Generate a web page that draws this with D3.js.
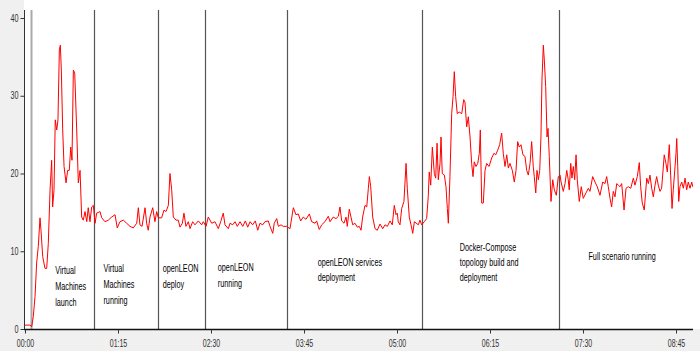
<!DOCTYPE html>
<html>
<head>
<meta charset="utf-8">
<script src="https://cdn.jsdelivr.net/npm/d3@7"></script>
<style>
  html, body { margin: 0; padding: 0; background: #f0f0f0; }
  svg { display: block; }
</style>
</head>
<body>
<svg id="chart" width="700" height="351"></svg>
<script>
// ---- data (minutes since start, CPU %) ----
const phaseLaunch = [[0,0.5],[4.0,0.5],[5.4,0.3],[6.7,1.6],[8.1,4.2],[9.4,8.5],[10.7,10.6],[12.1,14.3],[12.9,12.7],[14.3,9.3],[16.1,7.8],[17.5,7.8],[18.8,11],[20.2,17.9],[21.5,21.7],[22.3,15.7],[23.4,17.9],[24.4,26.9],[25.6,25.6],[26.6,26.9],[27.7,35.9],[28.5,36.5],[29.3,33.3],[30.4,25.6],[31.5,20.9],[33.1,18.8],[34.4,20.4],[35.7,20.4],[36.9,23.4],[37.9,21.7],[39.0,33.3],[40.1,32.9],[41.7,25.6],[43.0,18.8],[44.4,20.4],[45.7,14.4],[47.0,14.0],[48.4,15.1],[49.8,13.8],[51.0,15.6],[52.4,13.8],[53.8,15.7],[55.1,15.9]];
const phaseVmRunning = [[56.5,13.6],[57.8,14.9],[60.5,15.1],[61.9,14.3],[64.5,13.8],[67.2,14.0],[69.9,14.4],[72.6,14.7],[74.4,13.0],[76.6,13.8],[79.3,14.0],[82.0,13.6],[84.7,13.2],[87.3,13.0],[90.1,13.6],[91.4,15.6],[92.7,13.4],[94.4,13.2],[96.8,15.6],[98.1,13.6],[99.4,12.7],[100.8,14.4],[103.0,15.6],[104.8,13.8],[106.2,15.1],[107.5,14.3]];
const phaseDeploy = [[110.2,14.3],[112.1,15.3],[113.7,15.1],[115.6,15.9],[116.9,20.0],[118.3,17.9],[119.6,14.4],[121.8,14.0],[123.6,14.0],[125.0,13.1],[126.9,13.6],[128.2,14.9],[129.8,13.2],[131.7,13.8],[133.1,12.9],[135.2,13.8],[137.1,13.4],[139.8,13.9],[142.5,13.4],[143.8,13.8]];
const phaseLeonRunning = [[146.0,13.2],[147.8,14.4],[150.6,13.6],[153.2,13.8],[155.9,12.9],[157.8,13.8],[159.9,14.9],[161.3,13.4],[164.0,12.9],[165.3,13.6],[167.5,13.4],[169.4,13.8],[171.2,13.2],[173.4,13.8],[175.6,13.2],[177.7,13.9],[179.6,13.1],[181.5,13.8],[183.6,13.4],[185.7,13.9],[187.7,12.7],[189.5,13.6],[191.7,13.4],[193.5,13.8],[196.2,13.9],[197.6,13.2],[199.8,12.3],[201.0,13.6],[203.0,14.2],[204.3,13.2],[206.5,13.4],[208.3,13.2],[211.0,13.2]];
const phaseServices = [[213.7,12.9],[216.4,15.6],[218.5,14.7],[220.4,14.8],[222.3,13.9],[224.4,14.4],[226.6,14.1],[229.3,14.8],[231.2,13.8],[233.9,13.6],[235.2,13.9],[237.3,12.8],[239.3,13.4],[241.9,13.8],[244.6,14.5],[246.0,13.8],[248.6,14.4],[250.8,14.2],[252.7,14.5],[254.0,15.7],[255.4,13.9],[257.3,13.6],[258.9,14.4],[259.9,13.2],[261.5,15.4],[262.9,14.4],[264.3,13.4],[266.1,13.6],[268.0,13.1],[269.6,13.2],[271.0,12.7],[272.3,14.4],[274.2,15.9],[275.6,15.7],[276.9,18.1],[277.7,19.6],[278.8,18.3],[280.4,14.4],[282.3,12.9],[284.1,12.7],[286.3,13.5],[288.5,12.9],[290.3,13.4],[292.2,13.2],[294.4,13.9],[296.2,13.4],[297.8,15.9],[299.2,14.7],[300.2,14.9],[301.0,13.8],[302.4,13.4],[303.8,15.5],[305.6,16.4],[307.3,21.3],[308.3,18.1],[309.9,14.4],[311.3,13.4],[312.7,12.3],[314.0,13.8],[317.2,13.4],[318.5,14.0]];
const phaseDocker = [[319.9,13.4],[322.0,13.8],[323.9,14.2],[325.2,17.0],[326.0,20.2],[327.2,18.5],[328.5,23.4],[330.1,20.0],[331.2,19.4],[332.3,23.9],[333.3,19.2],[334.7,21.3],[335.5,24.7],[336.5,20.0],[338.2,19.8],[339.5,18.3],[340.6,15.5],[341.4,13.6],[342.7,19.6],[344.1,27.7],[345.2,29.9],[346.2,33.1],[347.3,29.9],[348.6,27.7],[350.2,27.9],[352.2,27.7],[353.8,29.5],[354.8,29.2],[356.2,26.0],[357.5,27.3],[358.9,24.7],[360.2,21.3],[361.3,19.6],[362.3,21.5],[363.7,20.9],[365.1,21.3],[366.4,22.6],[367.2,25.6],[368.3,16.2],[369.6,16.2],[371.0,20.4],[372.3,21.3],[374.2,20.9],[376.4,22.0],[378.2,22.6],[379.6,22.4],[381.2,23.0],[382.8,23.7],[384.4,25.2],[385.7,22.6],[387.1,20.9],[388.5,22.4],[389.8,20.7],[391.1,21.3],[393.0,20.4],[394.6,18.9],[396.0,20.4],[397.3,24.1],[398.6,23.4],[400.0,23.7],[401.6,22.4],[403.2,22.2],[404.6,20.4],[405.9,19.8],[407.3,21.3],[408.6,24.1],[409.9,20.9],[410.7,19.6],[411.9,17.5],[412.9,20.4],[414.0,19.2],[415.1,20.4],[416.1,24.7],[416.9,32.0],[418.0,36.5],[418.8,34.6],[419.9,31.2],[421.0,24.7],[421.8,25.8],[422.8,22.2],[424.2,16.4],[425.6,19.2],[426.9,17.9],[428.5,17.2],[430.1,19.6],[431.5,19.8]];
const phaseFull = [[432.3,18.9],[434.1,17.7],[435.5,18.7],[436.9,20.4],[438.1,19.2],[438.9,17.9],[440.1,21.3],[441.1,19.4],[442.2,20.9],[443.3,19.2],[444.4,22.4],[445.4,19.2],[447.0,16.4],[448.6,18.3],[450.2,16.8],[452.4,17.5],[454.3,18.1],[455.6,17.7],[457.8,19.6],[459.7,18.9],[461.5,18.3],[463.7,17.2],[465.9,18.9],[467.7,18.7],[469.1,19.6],[470.4,18.3],[471.8,16.8],[473.1,15.7],[474.4,17.7],[475.8,17.0],[477.2,18.7],[478.5,18.5],[479.8,18.3],[481.2,18.7],[483.1,15.3],[484.7,18.1],[486.5,18.3],[488.5,18.1],[490.6,19.4],[491.9,18.5],[493.8,19.6],[495.4,21.4],[496.5,18.3],[497.8,16.2],[499.4,15.3],[501.4,19.4],[502.7,18.7],[504.0,19.8],[505.4,18.1],[506.7,17.0],[508.1,18.5],[509.4,19.6],[510.7,18.5],[512.1,17.7],[513.4,18.1],[514.7,20.7],[515.5,22.4],[516.9,21.3],[518.0,20.2],[519.6,23.7],[520.7,19.8],[521.8,15.5],[522.8,17.9],[523.9,20.2],[525.0,22.6],[525.6,24.5],[526.4,20.9],[527.2,16.4],[528.2,18.3],[529.6,18.9],[530.9,18.1],[532.3,19.4],[533.6,17.9],[534.9,18.9],[536.3,18.1],[537.7,18.9],[538.5,18.3]];

const phaseStarts = [5, 56, 107, 145, 211, 320, 431];   // minutes
const phaseLabels = [
  {t: 5,   lines: ["Virtual", "Machines", "launch"]},
  {t: 56,  lines: ["Virtual", "Machines", "running"]},
  {t: 107, lines: ["openLEON", "deploy"]},
  {t: 145, lines: ["openLEON", "running"]},
  {t: 211, lines: ["openLEON services", "deployment"]},
  {t: 320, lines: ["Docker-Compose", "topology build and", "deployment"]},
  {t: 431, lines: ["Full scenario running"]}
];
const xTickMinutes = [0, 75, 150, 225, 300, 375, 450, 525];
const yTickValues = [0, 10, 20, 30, 40];

// ---- layout ----
const W = 700, H = 351;
const plotLeft = 24, plotRight = 693, plotTop = 0, plotBottom = 329;
const labelLayout = [
  {dx: 24, y: 274, lh: 16},
  {dx: 9,  y: 272, lh: 16},
  {dx: 5,  y: 272, lh: 16},
  {dx: 13, y: 271, lh: 16},
  {dx: 31, y: 266, lh: 15},
  {dx: 38, y: 251, lh: 15},
  {dx: 29, y: 260, lh: 15}
];
const FONT = "'Liberation Sans', Arial, sans-serif";
const SX = 0.63;

const svg = d3.select("#chart");
const series = [].concat(phaseLaunch, phaseVmRunning, phaseDeploy, phaseLeonRunning, phaseServices, phaseDocker, phaseFull);

const x = d3.scaleLinear().domain([0, 540]).range([25, 25 + 540 * 93 / 75]);
const y = d3.scaleLinear().domain([0, 40]).range([329, 18]);

svg.append("rect").attr("x", 0).attr("y", 0).attr("width", W).attr("height", H).attr("fill", "#f0f0f0");
svg.append("rect").attr("x", plotLeft).attr("y", plotTop).attr("width", W - plotLeft).attr("height", plotBottom - plotTop).attr("fill", "#ffffff");

// phase separators
svg.append("g").selectAll("line").data(phaseStarts).join("line")
  .attr("x1", d => Math.round(x(d)) + 0.5).attr("x2", d => Math.round(x(d)) + 0.5)
  .attr("y1", 10).attr("y2", plotBottom)
  .attr("stroke", (d, i) => i === 0 ? "#aaaaaa" : "#555555")
  .attr("stroke-width", (d, i) => i === 0 ? 2 : 1.2);

// phase labels
const lg = svg.append("g").attr("font-family", FONT).attr("font-size", 11.5).attr("fill", "#000");
phaseLabels.forEach((p, i) => {
  const L = labelLayout[i];
  const px = x(p.t) + L.dx;
  p.lines.forEach((s, j) => {
    lg.append("text")
      .attr("transform", `translate(${px},${L.y + j * L.lh}) scale(${SX},1)`)
      .text(s);
  });
});

// line
const line = d3.line().x(d => x(d[0])).y(d => y(d[1]));
svg.append("path").datum(series)
  .attr("fill", "none").attr("stroke", "#ff0000").attr("stroke-width", 1)
  .attr("stroke-linejoin", "round").attr("d", line);

// y axis
const yAxis = svg.append("g").attr("transform", `translate(${plotLeft + 0.5},0)`)
  .call(d3.axisLeft(y).tickValues(yTickValues).tickSize(4).tickPadding(2).tickSizeOuter(0));
yAxis.select(".domain").attr("d", `M0,10V${plotBottom}`).attr("stroke", "#333");
yAxis.selectAll(".tick line").attr("stroke", "#333");
yAxis.selectAll(".tick text").attr("font-family", FONT).attr("font-size", 10).attr("fill", "#333")
  .attr("x", null).attr("dy", "0.32em")
  .attr("transform", `translate(-6,0) scale(0.72,1)`);

// x axis
const fmt = m => String(Math.floor(m / 60)).padStart(2, "0") + ":" + String(m % 60).padStart(2, "0");
const xAxis = svg.append("g").attr("transform", `translate(0,${plotBottom + 0.5})`)
  .call(d3.axisBottom(x).tickValues(xTickMinutes).tickFormat(fmt).tickSize(4).tickSizeOuter(0));
xAxis.select(".domain").attr("d", `M${plotLeft},0H${plotRight}`).attr("stroke", "#111").attr("stroke-width", 1.5);
xAxis.selectAll(".tick line").attr("stroke", "#333");
xAxis.selectAll(".tick text").attr("font-family", FONT).attr("font-size", 10).attr("fill", "#333")
  .attr("y", null).attr("dy", null)
  .attr("transform", `translate(0,17) scale(0.7,1)`);
</script>
</body>
</html>
